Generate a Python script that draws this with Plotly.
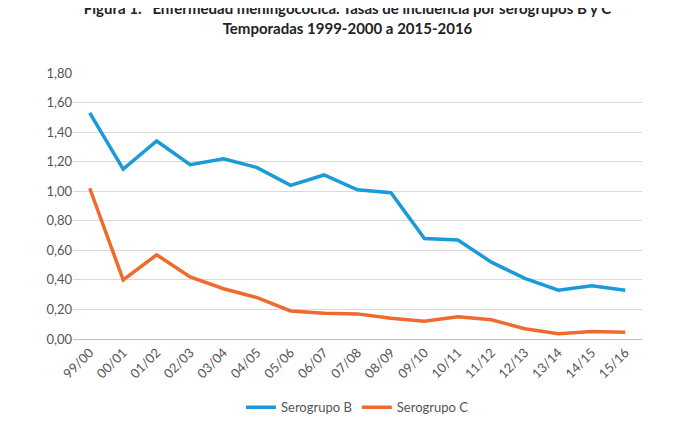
import plotly.graph_objects as go

temporadas = ["99/00", "00/01", "01/02", "02/03", "03/04", "04/05", "05/06", "06/07", "07/08",
              "08/09", "09/10", "10/11", "11/12", "12/13", "13/14", "14/15", "15/16"]
serogrupo_b = [1.53, 1.15, 1.34, 1.18, 1.22, 1.16, 1.04, 1.11, 1.01, 0.99, 0.68, 0.67, 0.52, 0.41, 0.33, 0.36, 0.33]
serogrupo_c = [1.02, 0.40, 0.57, 0.42, 0.34, 0.28, 0.19, 0.175, 0.17, 0.14, 0.12, 0.15, 0.13, 0.07, 0.035, 0.05, 0.045]
y_ticks = [0, 0.2, 0.4, 0.6, 0.8, 1.0, 1.2, 1.4, 1.6, 1.8]

fig = go.Figure()
fig.add_trace(go.Scatter(x=temporadas, y=serogrupo_b, mode="lines", name="Serogrupo B",
                         line=dict(color="#1a9ad6", width=3.5)))
fig.add_trace(go.Scatter(x=temporadas, y=serogrupo_c, mode="lines", name="Serogrupo C",
                         line=dict(color="#ee6b2d", width=3.5)))

fig.update_layout(
    width=679, height=426,
    paper_bgcolor="white", plot_bgcolor="white",
    font=dict(family="Lato, sans-serif", color="#555555", size=13),
    title=dict(text="<b>Figura 1.   Enfermedad meningocócica. Tasas de incidencia por serogrupos B y C<br>"
                    "Temporadas 1999-2000 a 2015-2016</b>",
               x=0.5, y=0.985, yanchor="top", xanchor="center", font=dict(size=15, color="#222222")),
    margin=dict(l=65, r=45, t=65, b=85),
    legend=dict(orientation="h", x=0.5, xanchor="center", y=-0.2, yanchor="top",
                font=dict(size=13)),
    showlegend=True,
)
fig.update_xaxes(tickangle=-45, showgrid=False, showline=True, linecolor="#bfbfbf",
                 ticks="", tickfont=dict(size=13), range=[-0.5, 16.5])
fig.update_yaxes(range=[0, 1.8], tickvals=y_ticks,
                 ticktext=[f"{v:.2f}".replace(".", ",") for v in y_ticks],
                 gridcolor="#d9d9d9", zeroline=False, tickfont=dict(size=13))

fig.write_html("out.html")
